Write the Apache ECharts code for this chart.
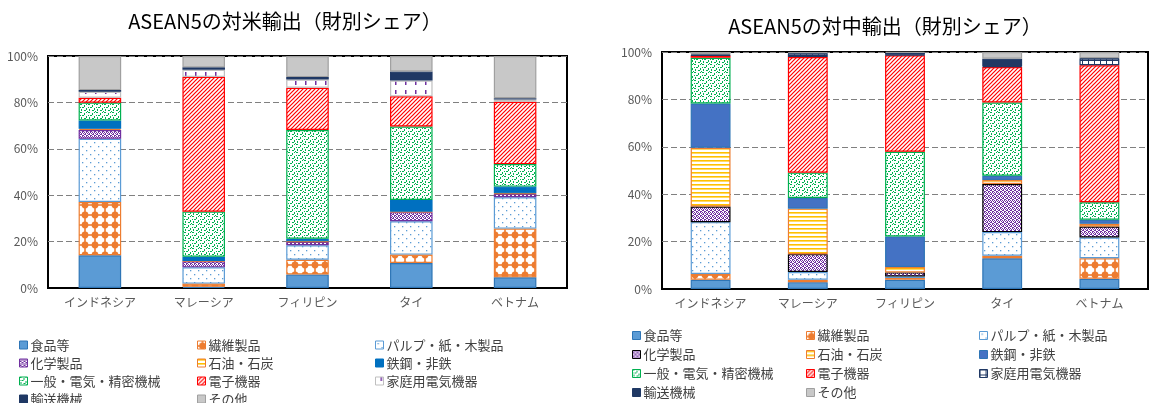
<!DOCTYPE html>
<html><head><meta charset="utf-8">
<script src="https://cdn.jsdelivr.net/npm/echarts@6/dist/echarts.min.js"></script>
<style>
html,body{margin:0;padding:0;background:#fff;}
#l{position:absolute;left:0;top:0;width:590px;height:403px;}
#r{position:absolute;left:590px;top:0;width:562px;height:403px;}
</style></head><body>
<div id="l"></div><div id="r"></div>
<script>
// ---------- data ----------
const categories = ['インドネシア','マレーシア','フィリピン','タイ','ベトナム'];
const seriesNames = ['食品等','繊維製品','パルプ・紙・木製品','化学製品','石油・石炭','鉄鋼・非鉄','一般・電気・精密機械','電子機器','家庭用電気機器','輸送機械','その他'];
const yTicks = [0,20,40,60,80,100];
const titleUS = 'ASEAN5の対米輸出（財別シェア）';
const titleCN = 'ASEAN5の対中輸出（財別シェア）';

// 対米 (share %, by category)
const us_food      = [14.1, 0.5, 5.8, 10.8, 4.6];
const us_textile   = [23.0, 1.4, 6.4, 3.6, 21.0];
const us_pulp      = [27.2, 7.0, 6.2, 14.4, 13.5];
const us_chemical  = [3.8, 2.6, 1.5, 3.9, 1.5];
const us_petroleum = [0.5, 0.1, 0.2, 0.2, 0.2];
const us_iron      = [3.6, 1.9, 1.1, 5.0, 2.9];
const us_machinery = [7.7, 19.4, 46.9, 31.7, 9.7];
const us_electronic= [2.1, 58.1, 18.2, 13.0, 26.9];
const us_household = [2.6, 3.1, 3.6, 6.8, 0.9];
const us_transport = [0.7, 1.0, 1.0, 3.9, 0.6];
const us_other     = [14.7, 4.9, 9.1, 6.7, 18.2];

// 対中 (share %, by category)
const cn_food      = [3.9, 2.9, 3.9, 13.0, 4.3];
const cn_textile   = [2.4, 1.0, 0.7, 1.0, 8.7];
const cn_pulp      = [21.9, 3.3, 0.7, 10.0, 8.7];
const cn_chemical  = [6.6, 7.5, 1.7, 20.3, 4.7];
const cn_petroleum = [24.8, 19.2, 2.3, 1.7, 1.1];
const cn_iron      = [18.7, 4.5, 12.9, 1.8, 1.7];
const cn_machinery = [19.3, 10.7, 35.7, 30.9, 7.4];
const cn_electronic= [0.9, 48.8, 40.7, 15.0, 57.8];
const cn_household = [0.2, 1.4, 0.2, 0.3, 2.8];
const cn_transport = [0.3, 0.2, 0.8, 3.2, 0.2];
const cn_other     = [1.0, 0.5, 0.4, 2.8, 2.6];

const usData = [us_food,us_textile,us_pulp,us_chemical,us_petroleum,us_iron,us_machinery,us_electronic,us_household,us_transport,us_other];
const cnData = [cn_food,cn_textile,cn_pulp,cn_chemical,cn_petroleum,cn_iron,cn_machinery,cn_electronic,cn_household,cn_transport,cn_other];

// ---------- patterns ----------
function tile(w,h,bg,draw){
  const c=document.createElement('canvas');c.width=w;c.height=h;
  const g=c.getContext('2d');g.fillStyle=bg;g.fillRect(0,0,w,h);draw(g);
  return {image:c,repeat:'repeat'};
}
const P = {
  textile: () => tile(10,10,'#fff',g=>{g.fillStyle='#ED7D31';g.beginPath();g.arc(5,5,3.4,0,Math.PI*2);g.fill();g.fillRect(4.2,0,1.6,10);g.fillRect(0,4.2,10,1.6);}),
  pulp: () => tile(8,8,'#fff',g=>{g.fillStyle='#5B9BD5';g.fillRect(2,2,1.3,1.3);g.fillRect(6,6,1.3,1.3);}),
  chem: (c) => tile(4,4,'#fff',g=>{g.fillStyle=c;g.fillRect(0,0,1,1);g.fillRect(2,0,1,1);g.fillRect(1,1,1,1);g.fillRect(3,1,1,1);g.fillRect(0,2,2,1);g.fillRect(2,3,2,1);}),
  petro: () => tile(4,4,'#fff',g=>{g.fillStyle='#FFC000';g.fillRect(0,0,4,1.6);}),
  mach: () => tile(8,8,'#fff',g=>{g.fillStyle='#00B050';[[0,0,2,1],[4,1,1,2],[2,3,2,1],[6,4,1,2],[1,5,1,2],[4,6,2,1],[7,7,1,1],[6,0,1,1],[0,3,1,1]].forEach(r=>g.fillRect(...r));}),
  elec: () => tile(4,4,'#fff',g=>{g.strokeStyle='#FF0000';g.lineWidth=1.2;g.beginPath();g.moveTo(-1,5);g.lineTo(5,-1);g.moveTo(-1,1);g.lineTo(1,-1);g.moveTo(3,5);g.lineTo(5,3);g.stroke();}),
  houseUS: () => tile(10,9,'#fff',g=>{g.fillStyle='#7030A0';g.fillRect(5,0,1.5,4);}),
  houseCN: () => tile(6,5,'#fff',g=>{g.fillStyle='#1F3864';g.fillRect(0,0,6,1);g.fillRect(0,0,1,5);})
};

const stylesUS = [
  {color:'#5B9BD5',borderColor:'#2E75B6'},
  {color:P.textile(),borderColor:'#ED7D31'},
  {color:P.pulp(),borderColor:'#5B9BD5'},
  {color:P.chem('#7030A0'),borderColor:'#7030A0'},
  {color:P.petro(),borderColor:'#ED7D31'},
  {color:'#0070C0',borderColor:'#0070C0'},
  {color:P.mach(),borderColor:'#00B050'},
  {color:P.elec(),borderColor:'#FF0000'},
  {color:P.houseUS(),borderColor:'#BFBFBF'},
  {color:'#1F3864',borderColor:'#1F3864'},
  {color:'#C8C8C8',borderColor:'#A0A0A0'}
];
const stylesCN = [
  {color:'#5B9BD5',borderColor:'#2E75B6'},
  {color:P.textile(),borderColor:'#ED7D31'},
  {color:P.pulp(),borderColor:'#5B9BD5'},
  {color:P.chem('#7030A0'),borderColor:'#000000'},
  {color:P.petro(),borderColor:'#ED7D31'},
  {color:'#4472C4',borderColor:'#2E75B6'},
  {color:P.mach(),borderColor:'#00B050'},
  {color:P.elec(),borderColor:'#FF0000'},
  {color:P.houseCN(),borderColor:'#1F3864'},
  {color:'#1F3864',borderColor:'#1F3864'},
  {color:'#C8C8C8',borderColor:'#A0A0A0'}
];

const FONT = '"Noto Sans CJK JP", sans-serif';

function build(title, data, styles, L){
  const cols = [[0,3,6,9],[1,4,7,10],[2,5,8]];
  return {
    animation:false,
    title:{text:title,left:L.titleX,top:L.titleY,textAlign:'center',padding:0,
      textStyle:{fontFamily:FONT,fontSize:20,fontWeight:'normal',color:'#000'}},
    legend: cols.map((c,i)=>({
      orient:'vertical',left:L.legX[i],top:L.legY,height:120,padding:0,itemWidth:8,itemHeight:8,itemGap:0,
      icon:'rect',selectedMode:false,
      itemStyle:{borderWidth:1},
      textStyle:{fontFamily:FONT,fontSize:13,color:'#404040',lineHeight:L.legLH,padding:[0,0,0,-2]},
      data:c.map(k=>seriesNames[k])
    })),
    grid:{left:L.gl,top:L.gt,width:L.gw,height:L.gh,show:true,borderColor:'#000',borderWidth:2,containLabel:false},
    xAxis:{type:'category',data:categories,
      axisTick:{show:false},axisLine:{show:true,lineStyle:{color:'#000',width:2}},
      axisLabel:{fontFamily:FONT,fontSize:12,color:'#595959',margin:8}},
    yAxis:{type:'value',min:yTicks[0],max:yTicks[yTicks.length-1],interval:20,
      axisLine:{show:false},axisTick:{show:false},
      axisLabel:{formatter:'{value}%',fontFamily:FONT,fontSize:12,color:'#595959',margin:10},
      splitLine:{show:true,lineStyle:{color:'#808080',type:[6,3],width:1.2}}},
    series: seriesNames.map((n,i)=>({
      name:n,type:'bar',stack:'s',barWidth:'41%',data:data[i],
      itemStyle:Object.assign({borderWidth:1.2},styles[i])
    }))
  };
}

echarts.init(document.getElementById('l')).setOption(build(titleUS,usData,stylesUS,{
  titleX:285,titleY:11,legX:[19,197,375],legY:336,legLH:18,gl:48,gt:56,gw:519,gh:232}));
echarts.init(document.getElementById('r')).setOption(build(titleCN,cnData,stylesCN,{
  titleX:295,titleY:16,legX:[42,216,389],legY:326,legLH:19,gl:72,gt:52,gw:486,gh:237}));
</script>
</body></html>
